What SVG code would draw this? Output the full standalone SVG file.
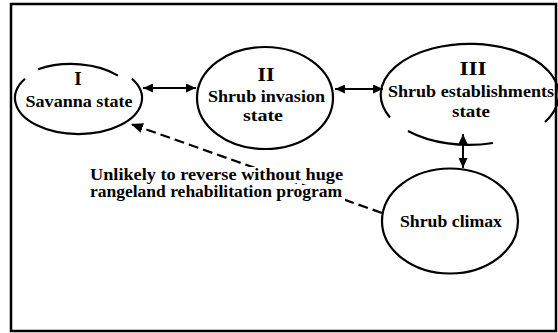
<svg xmlns="http://www.w3.org/2000/svg" width="558" height="333" viewBox="0 0 558 333">
<style>
  .node { fill: none; stroke: #000; stroke-width: 2.2; }
  .t { font-family: "Liberation Serif", "Times New Roman", serif; font-weight: bold; font-size: 17px; fill: #000; text-anchor: middle; }
  .num { font-size: 19px; }
  .lbl { text-anchor: start; font-size: 16px; }
  .edge { stroke: #000; stroke-width: 2; fill: none; }
  .dash { stroke-dasharray: 10 5; stroke-width: 2.2; }
  .bg { fill: #fff; stroke: none; }
</style>
<defs>
  <marker id="ah" viewBox="0 0 10 9" refX="10" refY="4.5" markerWidth="10" markerHeight="9" markerUnits="userSpaceOnUse" orient="auto-start-reverse">
    <path d="M0,0 L10,4.5 L0,9 z" fill="#000"/>
  </marker>
  <marker id="ah2" viewBox="0 0 12 10" refX="12" refY="5" markerWidth="12" markerHeight="10" markerUnits="userSpaceOnUse" orient="auto">
    <path d="M0,0 L12,5 L0,10 z" fill="#000"/>
  </marker>
</defs>
<rect x="11" y="4" width="545" height="327" fill="#fff" stroke="#000" stroke-width="2.5"/>

<g id="connectors">
  <line class="edge" x1="143" y1="88" x2="196" y2="88" marker-start="url(#ah)" marker-end="url(#ah)"/>
  <line class="edge" x1="335" y1="89" x2="383" y2="89" marker-start="url(#ah)" marker-end="url(#ah)"/>
  <line class="edge" x1="463" y1="134" x2="463" y2="168" marker-start="url(#ah)" marker-end="url(#ah)"/>
  <line class="edge dash" x1="382" y1="213" x2="131" y2="124" marker-end="url(#ah2)"/>
</g>

<g id="label-reverse">
  <rect class="bg" x="89" y="167" width="256" height="16"/>
  <rect class="bg" x="89" y="185" width="256" height="16"/>
  <text class="t lbl" x="90" y="180" textLength="253" lengthAdjust="spacingAndGlyphs">Unlikely to reverse without huge</text>
  <text class="t lbl" x="90" y="197" textLength="252" lengthAdjust="spacingAndGlyphs">rangeland rehabilitation program</text>
</g>

<g id="node-savanna">
  <path class="node" d="M38,69.3 A63.5,36 0 0 1 118,75.6 M132,78.7 A63.5,36 0 1 1 25,78.7"/>
  <text class="t num" x="78" y="85">I</text>
  <text class="t" x="79" y="107" textLength="107" lengthAdjust="spacingAndGlyphs">Savanna state</text>
</g>

<g id="node-invasion">
  <ellipse class="node" cx="265" cy="98" rx="68" ry="51"/>
  <text class="t num" x="266" y="81" textLength="17" lengthAdjust="spacingAndGlyphs">II</text>
  <text class="t" x="266.5" y="102" textLength="117" lengthAdjust="spacingAndGlyphs">Shrub invasion</text>
  <text class="t" x="263" y="121" textLength="40" lengthAdjust="spacingAndGlyphs">state</text>
</g>

<g id="node-establishment">
  <path class="node" d="M545,122 A89,51 0 1 0 390,117.5 M408,131 A89,51 0 0 0 493,143"/>
  <text class="t num" x="473" y="75" textLength="27" lengthAdjust="spacingAndGlyphs">III</text>
  <text class="t" x="471" y="97" textLength="166" lengthAdjust="spacingAndGlyphs">Shrub establishments</text>
  <text class="t" x="471" y="117" textLength="38" lengthAdjust="spacingAndGlyphs">state</text>
</g>

<g id="node-climax">
  <ellipse class="node" cx="450" cy="221" rx="68" ry="52.5"/>
  <text class="t" x="451" y="227" textLength="102" lengthAdjust="spacingAndGlyphs">Shrub climax</text>
</g>
</svg>
